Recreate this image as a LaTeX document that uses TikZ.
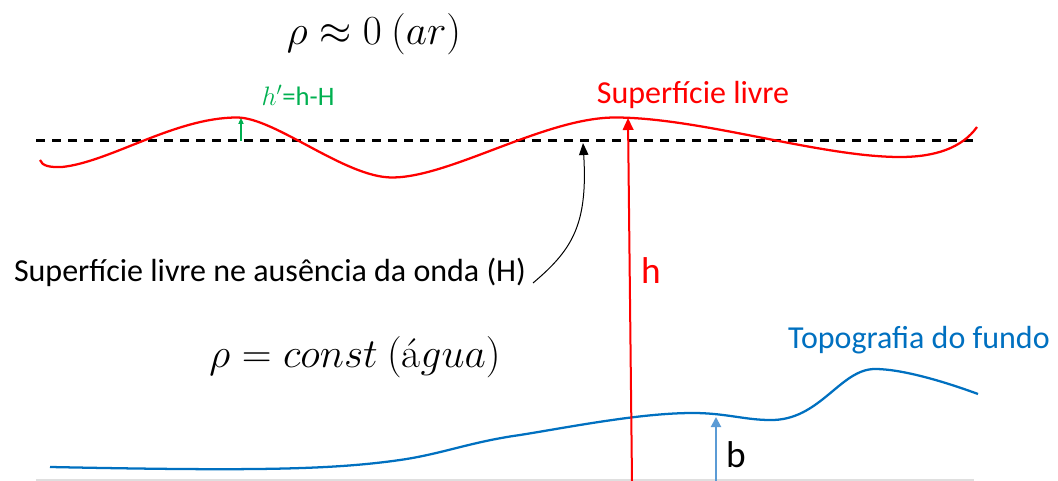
\RequirePackage{fix-cm}
\documentclass[tikz,border=0pt]{standalone}
\usepackage[no-math]{fontspec}
\setmainfont{Carlito}
\newfontfamily\lmroman{Latin Modern Roman}
\usetikzlibrary{arrows.meta}
\definecolor{wred}{RGB}{255,0,0}
\definecolor{wblue}{RGB}{0,112,192}
\definecolor{lblue}{RGB}{91,155,213}
\definecolor{wgreen}{RGB}{0,176,80}
\begin{document}
\begin{tikzpicture}[x=0.75pt,y=-0.75pt,
  lbl/.style={inner sep=0pt,outer sep=0pt},
  bigmath/.style={lbl,font=\fontsize{31}{37}\selectfont},
  txt/.style={lbl,font=\fontsize{24}{29}\selectfont},
  bigtxt/.style={lbl,font=\fontsize{28}{34}\selectfont},
  wave/.style={wred,line width=1.7pt},
  bottom/.style={wblue,line width=1.7pt},
  refline/.style={black,line width=1.7pt,dash pattern=on 7pt off 5pt},
  harrow/.style={wred,line width=1.5pt,-{Triangle[length=9pt,width=8pt]}},
  barrow/.style={lblue,line width=1.5pt,-{Triangle[length=7.5pt,width=7.5pt]}},
  garrow/.style={wgreen,line width=0.8pt,-{Triangle[length=4.5pt,width=4pt]}},
  karrow/.style={black,line width=0.75pt,-{Triangle[length=9pt,width=7pt]}}]
\useasboundingbox (0,0) rectangle (1058,481);

% coordinates
\coordinate (dl) at (36,140.5);
\coordinate (dr) at (975,140.5);
\coordinate (hbot) at (632,481);
\coordinate (htop) at (628,118);
\coordinate (bbot) at (716,481);
\coordinate (btop) at (716,417);
\coordinate (gbot) at (241,141);
\coordinate (gtop) at (241,118);
\coordinate (Hpt) at (583,143);
\coordinate (Hstart) at (533,283);
\coordinate (gl) at (36,480);
\coordinate (gr) at (974,480);

% base line
\draw[gray!25,line width=0.8pt] (gl) -- (gr);

% reference (dashed) line
\draw[refline] (dl) -- (dr);

% free surface
\draw[wave] (40,160) .. controls (42,166) and (50,167.5) .. (62,167)
  .. controls (110,162) and (175,117.5) .. (237,117.5)
  .. controls (275,117.5) and (345,177.5) .. (392,177.5)
  .. controls (450,177.5) and (545,117.5) .. (615,117.5)
  .. controls (700,117.5) and (820,157) .. (900,157)
  .. controls (935,157) and (962,148) .. (977,127);

% bottom topography
\draw[bottom] (50,467) .. controls (250,471) and (330,470) .. (400,460)
  .. controls (442,454) and (470,442) .. (520,435)
  .. controls (570,427) and (640,413) .. (693,413)
  .. controls (725,413) and (745,420) .. (770,420)
  .. controls (820,421) and (840,369) .. (875,369)
  .. controls (900,369) and (940,380) .. (978,394);

% arrows
\draw[harrow] (hbot) -- (htop);
\draw[barrow] (bbot) -- (btop);
\draw[garrow] (gbot) -- (gtop);
\draw[karrow] (Hstart) .. controls (572,250) and (588,225) .. (Hpt);

% labels
\node[bigmath] (rhoair) at (374,34) {$\rho \approx 0\ (ar)$};
\node[bigmath] (rhowater) at (355,357) {$\rho = const\ (\mbox{\lmroman á}gua)$};
\node[lbl,wgreen,font=\fontsize{20}{24}\selectfont] (hprime) at (298,95) {$h'$=h-H};
\node[txt,wred] (suplivre) at (693,95) {Superfície livre};
\node[txt] (semonda) at (270,272) {Superfície livre ne ausência da onda (H)};
\node[bigtxt,wred] (hlabel) at (651,271) {h};
\node[txt,wblue] (topo) at (919,340) {Topografia do fundo};
\node[bigtxt] (blabel) at (736,455) {b};
\end{tikzpicture}
\end{document}
